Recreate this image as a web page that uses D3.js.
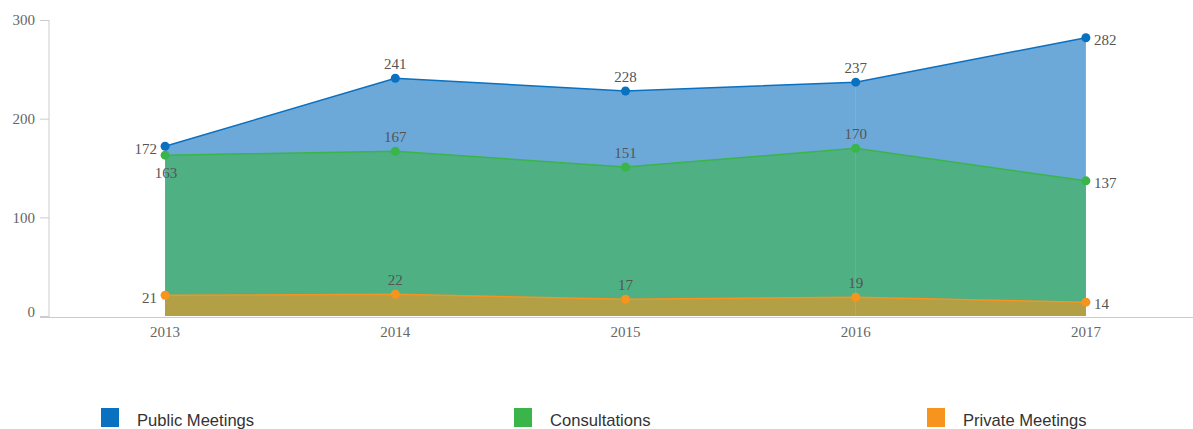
<!DOCTYPE html>
<html><head><meta charset="utf-8">
<script src="https://cdn.jsdelivr.net/npm/d3@7/dist/d3.min.js"></script>
<style>
html,body{margin:0;padding:0;background:#fff;}
svg{display:block;}
</style></head>
<body>
<svg id="chart" width="1193" height="429"></svg>
<script>
const years = ["2013","2014","2015","2016","2017"];
const publicMeetings = [172, 241, 228, 237, 282];
const consultations = [163, 167, 151, 170, 137];
const privateMeetings = [21, 22, 17, 19, 14];
const yTicks = [0, 100, 200, 300];
const seriesNames = ["Public Meetings", "Consultations", "Private Meetings"];
const seriesColors = ["#0a70c0", "#3ab54a", "#f7941d"];

const series = [publicMeetings, consultations, privateMeetings];

const svg = d3.select("#chart");
const x = d3.scaleBand().domain(years).range([50, 1201]);
const xc = d => x(d) + x.bandwidth() / 2;
const y = d3.scaleLinear().domain([0, 300]).range([316, 20]);

// y axis
const yAxis = svg.append("g").attr("transform", "translate(49,0)")
  .call(d3.axisLeft(y).tickValues(yTicks).tickSize(9).tickPadding(5));
yAxis.select(".domain").attr("stroke", "#ccc").attr("d", "M0,20V317.5");
yAxis.selectAll(".tick line").attr("stroke", "#ccc");
yAxis.selectAll(".tick text").attr("fill", "#666")
  .attr("y", d => d === 0 ? -4 : 0)
  .style("font-family", "'Liberation Serif', 'DejaVu Serif', serif").style("font-size", "15px");

// areas
series.forEach((vals, i) => {
  const data = years.map((yr, j) => ({yr, v: vals[j]}));
  const area = d3.area().x(d => xc(d.yr)).y0(y(0)).y1(d => y(d.v));
  svg.append("path").datum(data).attr("d", area)
    .attr("fill", seriesColors[i]).attr("fill-opacity", 0.6);
});

// faint hover line at 2016
svg.append("line").attr("x1", xc("2016")).attr("x2", xc("2016"))
  .attr("y1", y(publicMeetings[3])).attr("y2", y(0))
  .attr("stroke", "#fff").attr("stroke-opacity", 0.12);

// lines and points
series.forEach((vals, i) => {
  const data = years.map((yr, j) => ({yr, v: vals[j]}));
  const line = d3.line().x(d => xc(d.yr)).y(d => y(d.v));
  svg.append("path").datum(data).attr("d", line)
    .attr("fill", "none").attr("stroke", seriesColors[i]).attr("stroke-width", 1.5);
  svg.selectAll(null).data(data).enter().append("circle")
    .attr("cx", d => xc(d.yr)).attr("cy", d => y(d.v)).attr("r", 4.5)
    .attr("fill", seriesColors[i]);
});

// x axis
const xAxis = svg.append("g").attr("transform", "translate(0,317.5)")
  .call(d3.axisBottom(x).tickSize(0).tickPadding(9));
xAxis.select(".domain").attr("stroke", "#ccc").attr("d", "M40,0H1193");
xAxis.selectAll(".tick text").attr("fill", "#666")
  .style("font-family", "'Liberation Serif', 'DejaVu Serif', serif").style("font-size", "15px");

// data labels
const lab = svg.append("g").style("font-family", "'Liberation Serif', 'DejaVu Serif', serif")
  .style("font-size", "15px").attr("fill", "#555");
series.forEach((vals, i) => {
  vals.forEach((v, j) => {
    const px = xc(years[j]), py = y(v);
    const t = lab.append("text").text(v);
    if (j === 0) {
      if (i === 1) {
        t.attr("x", px + 1).attr("y", py + 23).attr("text-anchor", "middle");
      } else {
        t.attr("x", px - 8).attr("y", py + 2).attr("dy", "0.35em").attr("text-anchor", "end");
      }
    } else if (j === years.length - 1) {
      t.attr("x", px + 8).attr("y", py + 2).attr("dy", "0.35em").attr("text-anchor", "start");
    } else {
      t.attr("x", px).attr("y", py - 9).attr("text-anchor", "middle");
    }
  });
});

// legend
const legendX = [101, 514, 927];
const leg = svg.append("g");
seriesNames.forEach((n, i) => {
  leg.append("rect").attr("x", legendX[i]).attr("y", 408).attr("width", 18).attr("height", 19)
    .attr("fill", seriesColors[i]);
  leg.append("text").attr("x", legendX[i] + 36).attr("y", 426).text(n)
    .attr("fill", "#333").style("font-family", "'Liberation Sans', Arial, sans-serif").style("font-size", "16.6px");
});
</script>
</body></html>
